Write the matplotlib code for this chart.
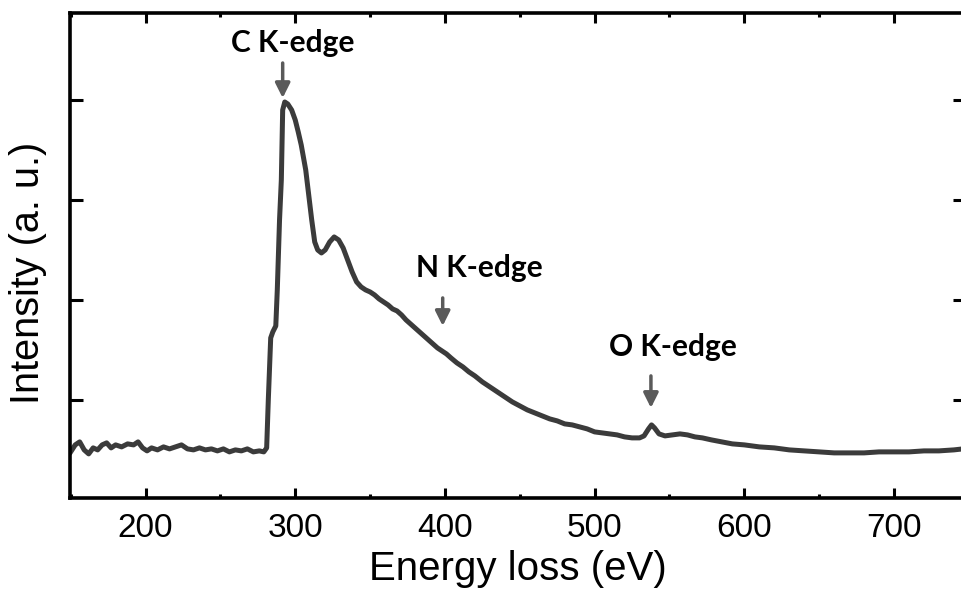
import matplotlib
matplotlib.use("Agg")
import matplotlib.pyplot as plt
from matplotlib.ticker import MultipleLocator

# EELS spectrum (energy in eV, intensity in a.u.)
energy = [150, 153, 156, 159, 162, 165, 168, 171, 174, 177, 180, 184, 188, 192,
          195, 198, 201, 204, 208, 212, 216, 220, 224, 228, 232, 236, 240, 244,
          248, 252, 256, 260, 264, 268, 272, 276, 279, 280.9,
          282, 283.6, 285, 287, 288, 289.5, 290.7, 291.6, 293, 295, 297.6, 300,
          302, 304, 307, 309, 311, 313, 315, 317.5, 320, 323, 326, 329, 332,
          335, 338, 341, 344, 347, 350, 353, 356, 359, 362, 365, 368, 371, 374,
          377, 380, 383, 386, 389, 392, 395, 398, 401, 404, 408, 412, 416, 420,
          425, 430, 435, 440, 445, 450, 455, 460, 465, 470, 475, 480, 485, 490,
          495, 500, 505, 510, 515, 520, 525, 530, 533, 536, 538, 540, 543, 547,
          552, 557, 562, 567, 572, 578, 585, 592, 600, 610, 620, 630, 640, 650,
          660, 670, 680, 690, 700, 710, 720, 730, 740, 746]
intensity = [0.48, 0.55, 0.58, 0.50, 0.46, 0.52, 0.50, 0.55, 0.57, 0.52, 0.55,
             0.53, 0.56, 0.55, 0.58, 0.52, 0.49, 0.52, 0.50, 0.53, 0.51, 0.53,
             0.55, 0.51, 0.50, 0.52, 0.50, 0.51, 0.49, 0.51, 0.48, 0.50, 0.49,
             0.51, 0.48, 0.49, 0.48, 0.52,
             1.00, 1.62, 1.68, 1.74, 2.10, 2.80, 3.20, 3.90, 3.98, 3.96, 3.90,
             3.80, 3.68, 3.55, 3.30, 3.05, 2.80, 2.58, 2.50, 2.47, 2.50, 2.58,
             2.63, 2.60, 2.52, 2.40, 2.28, 2.18, 2.13, 2.10, 2.08, 2.05, 2.01,
             1.98, 1.95, 1.91, 1.89, 1.85, 1.80, 1.76, 1.72, 1.68, 1.64, 1.60,
             1.56, 1.52, 1.49, 1.46, 1.42, 1.37, 1.33, 1.28, 1.24, 1.18, 1.13,
             1.08, 1.03, 0.98, 0.94, 0.90, 0.87, 0.84, 0.81, 0.79, 0.76, 0.75,
             0.73, 0.71, 0.68, 0.67, 0.66, 0.65, 0.63, 0.62, 0.62, 0.64, 0.71,
             0.75, 0.72, 0.66, 0.64, 0.65, 0.66, 0.65, 0.63, 0.62, 0.60, 0.58,
             0.56, 0.55, 0.53, 0.52, 0.50, 0.49, 0.48, 0.47, 0.47, 0.47, 0.48,
             0.48, 0.48, 0.49, 0.49, 0.50, 0.51]

# edge annotations: label, arrow energy, arrow top/bottom, label position
edge_names = ["C K-edge", "N K-edge", "O K-edge"]
edge_energy = [291.6, 398.5, 537.6]
arrow_top = [4.37, 2.02, 1.24]
arrow_bottom = [4.02, 1.74, 0.92]
label_x = [298.4, 423.3, 552.3]
label_y = [4.57, 2.32, 1.53]

fig = plt.figure(figsize=(9.61, 5.92), dpi=100)
ax = fig.add_axes([0.0728, 0.159, 0.9315, 0.819])

ax.plot(energy, intensity, color="#3b3b3b", lw=3.6, solid_joinstyle="round")

for name, xe, yt, yb, lx, ly in zip(edge_names, edge_energy, arrow_top,
                                     arrow_bottom, label_x, label_y):
    ax.annotate("", xy=(xe, yb), xytext=(xe, yt),
                arrowprops=dict(arrowstyle="-|>", color="#5a5a5a", lw=2.5,
                                mutation_scale=22, shrinkA=0, shrinkB=0))
    ax.text(lx, ly, name, ha="center", va="center", fontsize=21.5,
            fontweight="bold", family="Lato", color="black")

ax.set_xlim(149.5, 747.5)
ax.set_ylim(0.02, 4.87)
ax.xaxis.set_major_locator(MultipleLocator(100))
ax.xaxis.set_minor_locator(MultipleLocator(50))
ax.set_yticks([1, 2, 3, 4])
ax.set_yticklabels([])

ax.tick_params(axis="x", which="major", direction="in", length=7, width=2.2,
               top=True, labelsize=24, pad=11)
ax.tick_params(axis="x", which="minor", direction="in", length=3, width=2.2,
               top=True)
ax.tick_params(axis="y", which="major", direction="in", length=9, width=2.2,
               right=True)
for lab in ax.get_xticklabels():
    lab.set_family("Liberation Sans")
for s in ax.spines.values():
    s.set_linewidth(2.6)

ax.set_xlabel("Energy loss (eV)", fontsize=29, family="Liberation Sans",
              labelpad=4)
ax.set_ylabel("Intensity (a. u.)", fontsize=28.5, family="Liberation Sans")
ax.yaxis.set_label_coords(-0.026, 0.465)

fig.savefig("out.png", dpi=100)
